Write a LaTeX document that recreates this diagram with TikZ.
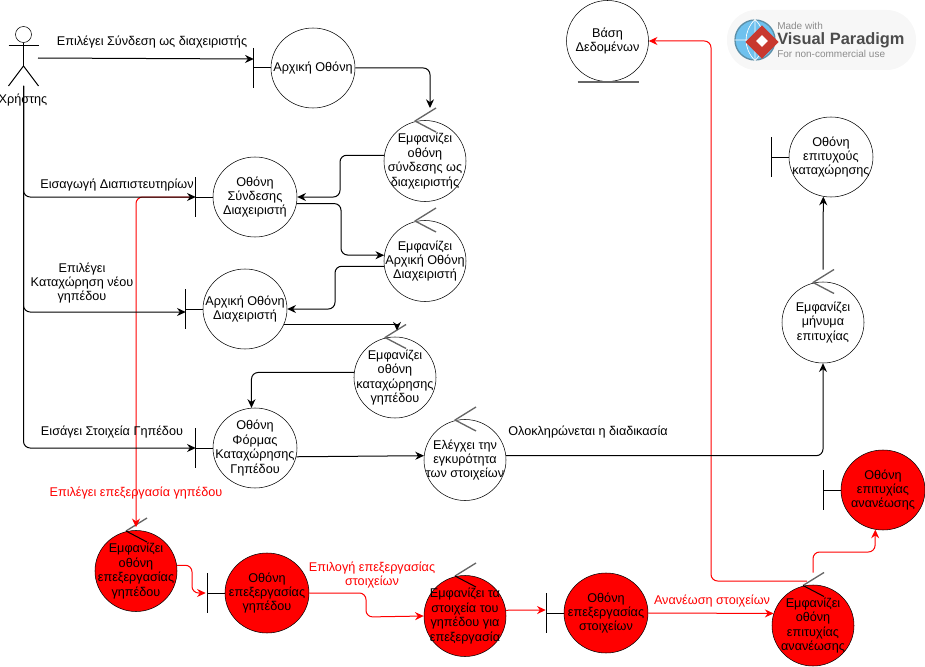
\documentclass[tikz,border=0pt]{standalone}
\usepackage{fontspec}
\setmainfont{Liberation Sans}
\usetikzlibrary{arrows.meta,calc,shapes.geometric}
\definecolor{vpblue}{HTML}{6EC1EE}
\definecolor{vprim}{HTML}{5C8FA8}
\definecolor{vpred}{HTML}{C8392F}

\begin{document}
\begin{tikzpicture}[
  x=0.75pt, y=-0.75pt,
  >={Stealth[length=6.5pt,width=6pt]}, line join=round,
  every node/.style={font=\fontsize{9.5}{10.8}\selectfont, align=center},
  scr/.style={ellipse, draw, minimum width=63pt, minimum height=60pt, inner sep=-12pt},
  ctl/.style={ellipse, draw, minimum width=61.5pt, minimum height=60.75pt, inner sep=-12pt},
  hot/.style={fill=red},
  flow/.style={->, rounded corners=5pt, line width=0.75pt},
  redflow/.style={flow, red},
  redtxt/.style={text=red},
  ctlmark/.style={black!60, line width=1pt}
]
\useasboundingbox (0,0) rectangle (925,667);

% --- red nodes
\node[ctl, hot] (emfepe) at (136,571) {Εμφανίζει\\οθόνη\\επεξεργασίας\\γηπέδου};
\node[scr, hot] (oepg) at (267,593) {Οθόνη\\επεξεργασίας\\γηπέδου};
\node[ctl, hot] (emfsto) at (465,616) {Εμφανίζει τα\\στοιχεία του\\γηπέδου για\\επεξεργασία};
\node[scr, hot] (oeps) at (606,613) {Οθόνη\\επεξεργασίας\\στοιχείων};
\node[ctl, hot] (emfan) at (813,625.5) {Εμφανίζει\\οθόνη\\επιτυχίας\\ανανέωσης};
\node[scr, hot] (oepan) at (883,490) {Οθόνη\\επιτυχίας\\ανανέωσης};

% --- black nodes
\node[scr] (arx) at (313,68) {Αρχική Οθόνη};
\node[ctl] (emfsyn) at (425,161) {Εμφανίζει\\οθόνη\\σύνδεσης ως\\διαχειριστής};
\node[scr] (osyn) at (255,197) {Οθόνη\\Σύνδεσης\\Διαχειριστή};
\node[ctl] (emfarx) at (425,261) {Εμφανίζει\\Αρχική Οθόνη\\Διαχειριστή};
\node[scr] (oarx) at (245,309) {Αρχική Οθόνη\\Διαχειριστή};
\node[ctl] (emfkat) at (395,377.5) {Εμφανίζει\\οθόνη\\καταχώρησης\\γηπέδου};
\node[scr] (oform) at (255,448) {Οθόνη\\Φόρμας\\Καταχώρησης\\Γηπέδου};
\node[ctl] (ele) at (465,460) {Ελέγχει την\\εγκυρότητα\\των στοιχείων};
\node[ctl] (vasi) at (607.5,41) {Βάση\\Δεδομένων};
\node[scr] (oepit) at (831,157) {Οθόνη\\επιτυχούς\\καταχώρησης};
\node[ctl] (emfmin) at (823,322.5) {Εμφανίζει\\μήνυμα\\επιτυχίας};

% boundary bars
\foreach \nm in {arx,osyn,oarx,oform,oepit,oepg,oeps,oepan}{
  \draw[line width=0.75pt] (\nm.west) -- ++(-17,0);
  \draw[line width=0.75pt] ($(\nm.west)+(-17,-20)$) -- ++(0,40);
}
% control marks
\foreach \nm in {emfsyn,emfarx,emfkat,ele,emfmin}
  \draw[ctlmark] ($(\nm.center)+(11,-53)$) -- ($(\nm.center)+(-10,-40)$) -- ($(\nm.center)+(11,-29)$);
\foreach \nm in {emfepe,emfsto,emfan}{
  \draw[ctlmark] ($(\nm.center)+(11,-53)$) -- ($(\nm.center)+(-10,-40)$);
  \draw[line width=0.75pt] ($(\nm.center)+(-10,-40)$) -- ($(\nm.center)+(11,-29)$);
}
% entity underline
\draw[black!60, line width=1.2pt] ($(vasi.south)+(-30,0.5)$) -- ($(vasi.south)+(31,0.5)$);

% actor
\node[circle, draw, minimum size=12pt, inner sep=0pt] (acthead) at (23.5,34.5) {};
\coordinate (actfoot) at (23.5,66);
\coordinate (acthand) at (38,58);
\coordinate (actbase) at (23.5,86);
\draw[line width=0.75pt] (acthead.south) -- (actfoot);
\draw[line width=0.75pt] (8.5,46) -- (38.5,46);
\draw[line width=0.75pt] (8.5,86) -- (actfoot) -- (38.5,86);
\node (actlbl) at (23,100) {Χρήστης};

% red connectors
\draw[redflow] ($(osyn.west)+(-19,0)$) -| ($(emfepe.north)+(0,-3)$);
\draw[redflow] (emfepe.8) -| (192,593) -- ($(oepg.west)+(-19,0)$);
\draw[redflow] (oepg.east) -| (366,617) -- (emfsto.west);
\draw[redflow] (emfsto.8) -- ($(oeps.west)+(-18,-3)$);
\draw[redflow] (oeps.east) -- (emfan.163);
\draw[redflow] ($(emfan.center)+(-6,-44.5)$) -| (711,41) -- (vasi.east);
\draw[redflow] ($(emfan.north)+(0,-12)$) |- (875,552) -- (oepan.-101);

% black connectors
\draw[flow] (acthand) -- ($(arx.west)+(-17,-9)$);
\draw[flow] (arx.east) -| ($(emfsyn.center)+(5,-53)$);
\draw[flow] (emfsyn.172) -| (340,197) -- (osyn.east);
\draw[flow] (osyn.-9) -| (341,255) -- (emfarx.172);
\draw[flow] (actbase) |- ($(osyn.west)+(-17,0)$);
\draw[flow] (actbase) |- ($(oarx.west)+(-17,3)$);
\draw[flow] (actbase) |- ($(oform.west)+(-17,0)$);
\draw[flow] (emfarx.172) ++(0,11) -| (335,309) -- (oarx.east);
\draw[flow, rounded corners=0pt] (oarx.-22) -| ($(emfkat.center)+(2,-47)$);
\draw[flow] (emfkat.173) -| (oform.95);
\draw[flow] (oform.-12) -- (ele.174);
\draw[flow] (ele.6) -| (emfmin.south);
\draw[flow] ($(emfmin.center)+(0,-53)$) -- (oepit.-101);

% flow labels
\node (lblsyn) at (152,42) {Επιλέγει Σύνδεση ως διαχειριστής};
\node (lbleis) at (117,185) {Εισαγωγή Διαπιστευτηρίων};
\node (lblkat) at (82,283) {Επιλέγει\\Καταχώρηση νέου\\γηπέδου};
\node (lblsto) at (112,432) {Εισάγει Στοιχεία Γηπέδου};
\node[anchor=west, inner sep=0pt] (lblolo) at (508,432) {Ολοκληρώνεται η διαδικασία};
\node[redtxt] (lblepe) at (136,493) {Επιλέγει επεξεργασία γηπέδου};
\node[redtxt] (lblepi) at (372,575) {Επιλογή επεξεργασίας\\στοιχείων};
\node[redtxt] (lblana) at (712,601) {Ανανέωση στοιχείων};

% watermark
\node[rounded corners=22pt, fill=black!3, minimum width=141.75pt, minimum height=45pt, inner sep=0pt] (vpbox) at (821.5,40) {};
\node[circle, fill=vpblue, draw=vprim, line width=1pt, minimum size=30pt, inner sep=0pt] (vpglobe) at (755,40) {};
\draw[white, line width=0.5pt] (vpglobe.west) -- (vpglobe.east) (vpglobe.north) -- (vpglobe.south)
  (vpglobe.north) .. controls (743,32) and (743,48) .. (vpglobe.south)
  (vpglobe.north) .. controls (767,32) and (767,48) .. (vpglobe.south);
\node[diamond, fill=vpred, minimum size=25pt, inner sep=0pt] (vpmark) at (762,42) {};
\node[diamond, fill=white, minimum size=9pt, inner sep=0pt] (vpmarkin) at (762,41) {};
\node[anchor=west, inner sep=0pt, text=black!45, font=\fontsize{7.5}{9}\selectfont] (vpmade) at (777,26) {Made with};
\node[anchor=west, inner sep=0pt, text=black!70, font=\fontsize{12.3}{14}\selectfont\bfseries] (vpname) at (777,40) {Visual Paradigm};
\node[anchor=west, inner sep=0pt, text=black!45, font=\fontsize{7.5}{9}\selectfont] (vpuse) at (777,54) {For non-commercial use};
\end{tikzpicture}
\end{document}
